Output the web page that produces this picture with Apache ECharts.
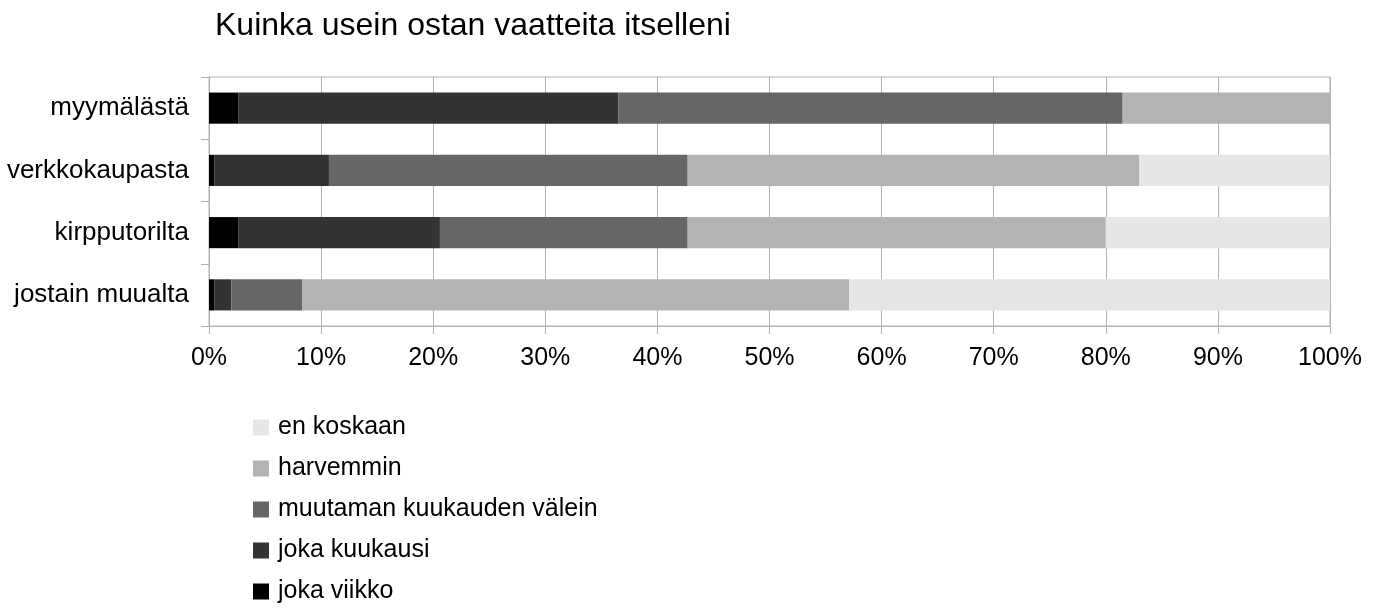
<!DOCTYPE html>
<html>
<head>
<meta charset="utf-8">
<script src="https://cdn.jsdelivr.net/npm/echarts@6/dist/echarts.min.js"></script>
<style>
  html, body { margin: 0; padding: 0; background: #fff; }
  #chart { width: 1379px; height: 609px; }
</style>
</head>
<body>
<div id="chart"></div>
<script>
// Shopping channels, listed top to bottom
const categories = ['myymälästä', 'verkkokaupasta', 'kirpputorilta', 'jostain muualta'];

// Share of answers (%) per frequency, in category order
const jokaViikko    = [2.6, 0.5, 2.6, 0.5];
const jokaKuukausi  = [33.9, 10.2, 18.0, 1.5];
const muutamanKk    = [45.0, 32.0, 22.1, 6.3];
const harvemmin     = [18.5, 40.3, 37.3, 48.8];
const enKoskaan     = [0.0, 17.0, 20.0, 42.9];

const seriesDefs = [
  { name: 'joka viikko', data: jokaViikko, color: '#000000' },
  { name: 'joka kuukausi', data: jokaKuukausi, color: '#333333' },
  { name: 'muutaman kuukauden välein', data: muutamanKk, color: '#666666' },
  { name: 'harvemmin', data: harvemmin, color: '#b3b3b3' },
  { name: 'en koskaan', data: enKoskaan, color: '#e6e6e6' }
];

const xTicks = [0, 10, 20, 30, 40, 50, 60, 70, 80, 90, 100];

const font = "'Liberation Sans', Arial, sans-serif";
const chart = echarts.init(document.getElementById('chart'), null, { renderer: 'canvas' });

chart.setOption({
  animation: false,
  backgroundColor: '#ffffff',
  title: {
    text: 'Kuinka usein ostan vaatteita itselleni',
    left: 215,
    top: 10,
    padding: 0,
    textStyle: { fontFamily: font, fontSize: 32, fontWeight: 'normal', color: '#000', lineHeight: 32 }
  },
  legend: {
    orient: 'vertical',
    left: 253,
    top: 415,
    padding: 0,
    itemWidth: 16,
    itemHeight: 16,
    itemGap: 16,
    icon: 'rect',
    data: seriesDefs.map(s => s.name).reverse(),
    textStyle: { fontFamily: font, fontSize: 25, color: '#000', lineHeight: 25, padding: [0, 0, 0, 4] }
  },
  grid: {
    left: 209,
    right: 49,
    top: 77,
    bottom: 283,
    show: true,
    borderColor: '#b3b3b3',
    borderWidth: 1,
    containLabel: false
  },
  xAxis: {
    type: 'value',
    min: xTicks[0],
    max: xTicks[xTicks.length - 1],
    interval: 10,
    axisLine: { show: true, lineStyle: { color: '#b3b3b3' } },
    axisTick: { show: true, length: 8, lineStyle: { color: '#b3b3b3' } },
    splitLine: { show: true, lineStyle: { color: '#b3b3b3', width: 1 } },
    axisLabel: {
      margin: 20,
      fontFamily: font,
      fontSize: 25,
      color: '#000',
      formatter: v => v + '%'
    }
  },
  yAxis: {
    type: 'category',
    inverse: true,
    data: categories,
    axisLine: { show: true, lineStyle: { color: '#b3b3b3' } },
    axisTick: { show: true, length: 8, lineStyle: { color: '#b3b3b3' } },
    axisLabel: { margin: 20, fontFamily: font, fontSize: 26, color: '#000' }
  },
  series: seriesDefs.map(s => ({
    name: s.name,
    type: 'bar',
    stack: 'total',
    barCategoryGap: '50%',
    data: s.data,
    itemStyle: { color: s.color },
    emphasis: { disabled: true }
  }))
});
</script>
</body>
</html>
